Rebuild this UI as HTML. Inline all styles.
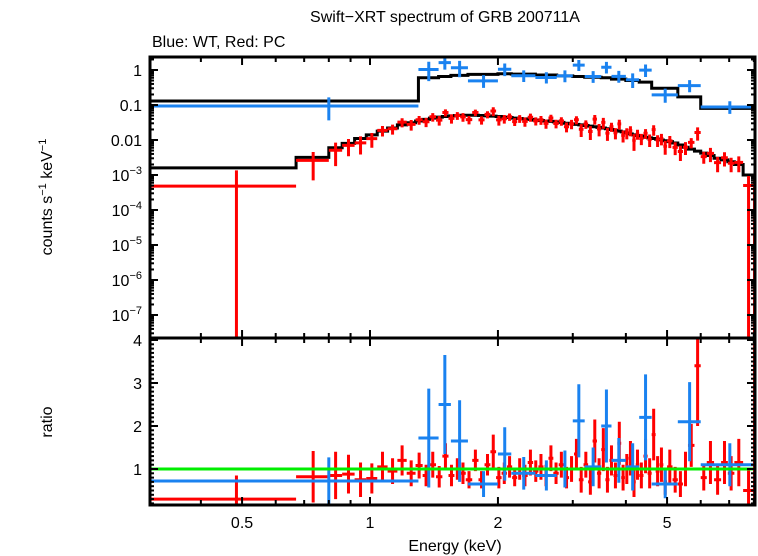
<!DOCTYPE html>
<html><head><meta charset="utf-8">
<style>
html,body{margin:0;padding:0;background:#fff;}
svg{display:block;font-family:"Liberation Sans",sans-serif;}
</style></head>
<body>
<svg id="chart" width="758" height="556" viewBox="0 0 758 556" xmlns="http://www.w3.org/2000/svg">
<defs>
<clipPath id="cTop"><rect x="150" y="57" width="605" height="281"/></clipPath>
<clipPath id="cBot"><rect x="150" y="338" width="605" height="167"/></clipPath>
</defs>
<text x="445" y="22" font-size="16" text-anchor="middle">Swift−XRT spectrum of GRB 200711A</text>
<text x="152" y="47" font-size="16">Blue: WT, Red: PC</text>
<text transform="translate(52,197) rotate(-90)" font-size="16" text-anchor="middle">counts s<tspan font-size="11" dy="-6">−1</tspan><tspan dy="6"> keV</tspan><tspan font-size="11" dy="-6">−1</tspan></text>
<text transform="translate(52,422) rotate(-90)" font-size="16" text-anchor="middle">ratio</text>
<text x="455" y="551" font-size="16" text-anchor="middle">Energy (keV)</text>
<g id="gTop" clip-path="url(#cTop)"></g>
<g id="gBot" clip-path="url(#cBot)"></g>
<g id="gAx"></g>
</svg>
<script>
// WT (blue) bins
const wtLo   = [0.3,1.3,1.45,1.55,1.7,2.0,2.15,2.45,2.75,3.0,3.2,3.5,3.7,4.0,4.3,4.6,5.3,6.0];
const wtHi   = [1.3,1.45,1.55,1.7,2.0,2.15,2.45,2.75,3.0,3.2,3.5,3.7,4.0,4.3,4.6,5.3,6.0,8.05];
const wtModel= [0.13,0.6,0.65,0.7,0.75,0.78,0.76,0.72,0.68,0.65,0.62,0.6,0.55,0.5,0.45,0.3,0.17,0.08];
const wtRatio= [0.72,1.72,2.5,1.65,0.65,1.35,0.9,0.85,1.0,2.12,1.05,2.0,1.2,1.05,2.2,0.65,2.1,1.1];
const wtErr  = [0.55,1.15,1.15,0.95,0.3,0.62,0.38,0.35,0.43,0.85,0.45,0.85,0.52,0.55,1.0,0.33,0.92,0.5];
// PC (red) bins
const pcEdges=[0.30,0.67,0.80,0.86,0.92,0.98,1.04,1.10,1.16,1.22,1.28,1.33,1.38,1.43,1.48,1.53,1.58,1.63,1.68,1.74,1.80,1.86,1.92,1.98,2.04,2.10,2.16,2.22,2.28,2.35,2.42,2.49,2.56,2.63,2.70,2.78,2.86,2.94,3.02,3.10,3.18,3.26,3.34,3.42,3.50,3.58,3.66,3.74,3.82,3.90,3.98,4.06,4.14,4.22,4.30,4.40,4.50,4.60,4.70,4.80,4.90,5.00,5.15,5.30,5.45,5.60,5.80,6.00,6.20,6.45,6.70,6.95,7.20,7.55,8.0];
const pcModel=[0.0016,0.0032,0.006,0.008,0.011,0.014,0.018,0.022,0.027,0.031,
0.035,0.039,0.042,0.045,0.047,0.049,0.05,0.051,0.051,0.051,
0.05,0.049,0.048,0.047,0.045,0.044,0.042,0.041,0.04,0.039,
0.037,0.036,0.035,0.034,0.033,0.032,0.03,0.029,0.028,0.027,
0.026,0.025,0.024,0.023,0.022,0.021,0.02,0.019,0.018,0.017,
0.016,0.015,0.014,0.0135,0.013,0.012,0.0115,0.011,0.0105,0.01,
0.0095,0.009,0.0082,0.0072,0.0062,0.0055,0.0048,0.0042,0.0036,0.003,
0.0027,0.0024,0.002,0.001];
const pcRatio=[0.3,0.82,0.85,0.88,0.75,0.78,1.05,0.95,1.2,0.9,
1.08,0.85,1.1,0.82,1.3,0.85,1.0,0.9,0.75,1.2,
0.75,1.1,1.4,0.8,0.9,1.05,0.8,1.0,0.85,1.15,
0.95,1.05,0.85,1.25,0.9,1.1,0.8,1.0,1.35,0.75,
1.1,0.7,1.65,0.9,1.45,0.75,1.2,0.85,1.6,0.8,
1.0,1.25,0.7,1.1,0.85,1.3,0.9,1.8,0.95,1.1,
0.7,1.05,0.75,0.65,1.0,1.55,3.4,0.8,1.15,0.75,
1.15,0.9,1.15,0.5];
const pcErr=[0.55,0.6,0.55,0.45,0.4,0.35,0.35,0.3,0.35,0.3,
0.3,0.25,0.3,0.25,0.3,0.25,0.25,0.25,0.2,0.25,
0.2,0.25,0.4,0.25,0.25,0.25,0.2,0.25,0.25,0.3,
0.25,0.3,0.25,0.3,0.25,0.3,0.25,0.3,0.35,0.3,
0.3,0.3,0.5,0.35,0.5,0.3,0.35,0.3,0.5,0.3,
0.35,0.4,0.35,0.35,0.3,0.4,0.35,0.6,0.35,0.4,
0.3,0.4,0.3,0.3,0.4,0.5,1.4,0.3,0.5,0.35,
0.5,0.4,0.55,0.5];
const xTicksMajor=[0.5,1,2,5];
const xTicksMinor=[0.4,0.6,0.7,0.8,0.9,3,4,6,7,8];
const yTopLabels=["1","0.1","0.01"];
const yTopPow=[-3,-4,-5,-6,-7];
const yBotTicks=[1,2,3,4];

const NS="http://www.w3.org/2000/svg";
const L=150,R=755,T=57,M=338,B=505;
const xs=e=>370+425*Math.log10(e);
const yt=v=>70-35*Math.log10(v);
const yb=r=>469-43*(r-1);
function el(parent,tag,attrs){const e=document.createElementNS(NS,tag);for(const k in attrs)e.setAttribute(k,attrs[k]);parent.appendChild(e);return e;}
const gTop=document.getElementById('gTop'),gBot=document.getElementById('gBot'),gAx=document.getElementById('gAx');

function stepPath(lo,hi,vals,f){let d='';for(let i=0;i<vals.length;i++){const y=f(vals[i]);d+=(i===0?'M':'L')+xs(lo[i])+','+y+'L'+xs(hi[i])+','+y;}return d;}
const pcLo=pcEdges.slice(0,-1),pcHi=pcEdges.slice(1);
let p=el(gTop,'path',{d:stepPath(wtLo,wtHi,wtModel,yt),fill:'none',stroke:'#000','stroke-width':3});

p=el(gTop,'path',{d:stepPath(pcLo,pcHi,pcModel,yt),fill:'none',stroke:'#000','stroke-width':3});


function cross(g,lo,hi,yc,y1,y2,col,name){
  const c=(lo+hi)/2;
  const a=el(g,'path',{d:'M'+xs(lo)+','+yc+'L'+xs(hi)+','+yc+'M'+xs(c)+','+y1+'L'+xs(c)+','+y2,stroke:col,'stroke-width':3,fill:'none'});
  
  
}
const BLUE='#1a82f0',RED='#ff0000';
for(let i=0;i<pcRatio.length;i++){
  const r=pcRatio[i],e=pcErr[i],m=pcModel[i];
  const lo=Math.max(r-e,1e-6);
  cross(gTop,pcLo[i],pcHi[i],yt(m*r),yt(m*(r+e)),yt(m*lo),RED,'pc-data-point');
  cross(gBot,pcLo[i],pcHi[i],yb(r),yb(r+e),yb(r-e),RED,'pc-ratio-point');
}
for(let i=0;i<wtRatio.length;i++){
  const r=wtRatio[i],e=wtErr[i],m=wtModel[i];
  cross(gTop,wtLo[i],wtHi[i],yt(m*r),yt(m*(r+e)),yt(m*Math.max(r-e*0.8,0.05)),BLUE,'wt-data-point');
  cross(gBot,wtLo[i],wtHi[i],yb(r),yb(r+e),yb(r-e),BLUE,'wt-ratio-point');
}
p=el(gBot,'line',{x1:L,x2:R,y1:yb(1),y2:yb(1),stroke:'#00ee00','stroke-width':3});

p=el(gAx,'line',{x1:754,x2:754,y1:175,y2:505,stroke:RED,'stroke-width':2});


p=el(gAx,'rect',{x:L,y:T,width:R-L,height:B-T,fill:'none',stroke:'#000','stroke-width':3});

p=el(gAx,'line',{x1:L,x2:R,y1:M,y2:M,stroke:'#000','stroke-width':3});


function tick(x1,y1,x2,y2){const t=el(gAx,'line',{x1:x1,y1:y1,x2:x2,y2:y2,stroke:'#000','stroke-width':2});}
function label(x,y,s,anchor,name){const t=el(gAx,'text',{x:x,y:y,'font-size':16,'text-anchor':anchor});t.textContent=s;return t;}
[T,M,B].forEach(y=>{
  xTicksMajor.forEach(e=>{const x=xs(e);if(y!==T)tick(x,y-8,x,y);if(y!==B)tick(x,y,x,y+8);});
  xTicksMinor.forEach(e=>{const x=xs(e);if(y!==T)tick(x,y-5,x,y);if(y!==B)tick(x,y,x,y+5);});
});
xTicksMajor.forEach(e=>label(xs(e),528,String(e),'middle','x-tick-label'));
for(let d=-8;d<=0;d++){
  for(let k=1;k<10;k++){const v=k*Math.pow(10,d);const y=yt(v);if(y<T||y>M)continue;const len=k===1?8:4;tick(L,y,L+len,y);tick(R-len,y,R,y);}
}
yTopLabels.forEach((s,i)=>label(142,yt(Math.pow(10,-i))+6,s,'end','y-tick-label-top'));
yTopPow.forEach(pw=>{const t=label(142,yt(Math.pow(10,pw))+6,'','end','y-tick-label-top');const t0=document.createElementNS(NS,'tspan');t0.textContent='10';const ts=document.createElementNS(NS,'tspan');ts.setAttribute('font-size','11');ts.setAttribute('dy','-7');ts.textContent='−'+(-pw);t.appendChild(t0);t.appendChild(ts);});
for(let r=0.2;r<=4.001;r+=0.1){const y=yb(r);if(y>B)continue;const maj=Math.abs(r-Math.round(r))<0.01;const len=maj?8:4;tick(L,y,L+len,y);tick(R-len,y,R,y);}
yBotTicks.forEach(r=>label(142,yb(r)+6,String(r),'end','y-tick-label-bottom'));
</script>
</body></html>
